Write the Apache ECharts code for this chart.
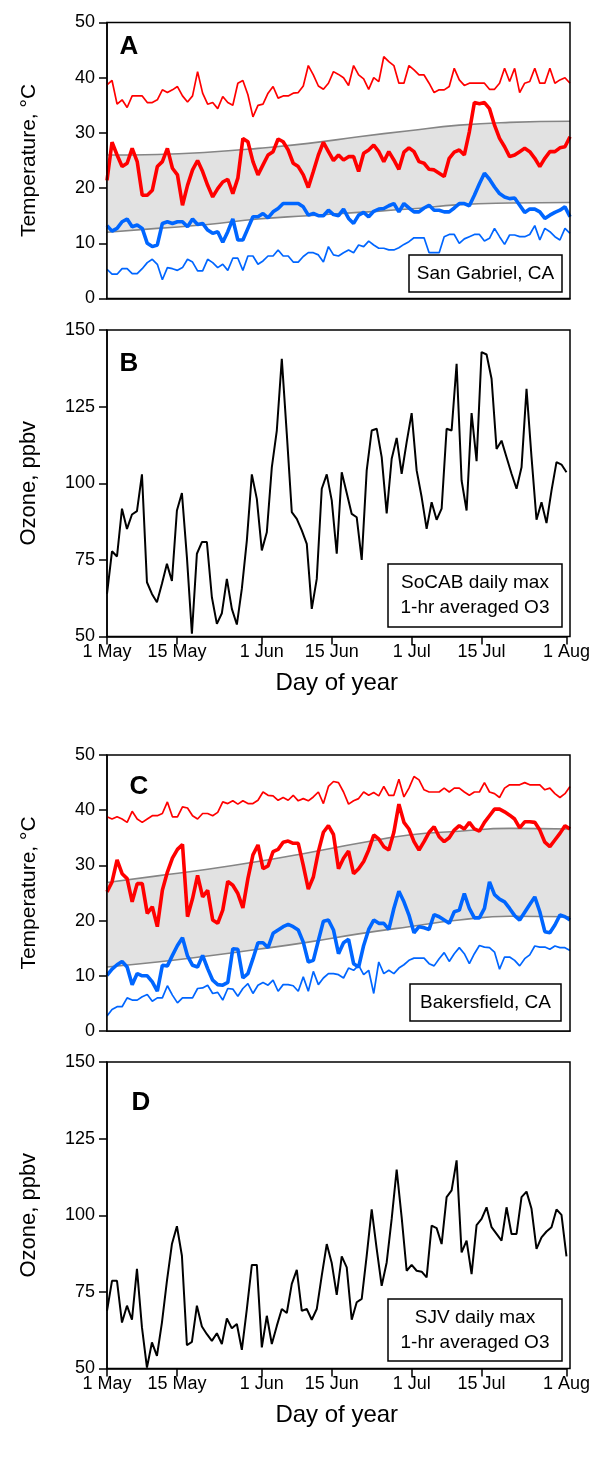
<!DOCTYPE html>
<html>
<head>
<meta charset="utf-8">
<script src="https://cdn.jsdelivr.net/npm/echarts@6/dist/echarts.min.js"></script>
<style>
html,body{margin:0;padding:0;background:#fff;}
#chart{width:593px;height:1457px;}
</style>
</head>
<body>
<div id="chart"></div>
<script>
// ---- Data (day index 0 = 1 May) ----
const tickDays = [0, 14, 31, 45, 61, 75, 92];
const tickLabels = ['1 May', '15 May', '1 Jun', '15 Jun', '1 Jul', '15 Jul', '1 Aug'];

// San Gabriel, CA
const sgMax = [38.7,39.5,35.2,36.0,34.6,36.7,36.7,36.7,35.5,35.5,
36.0,37.8,37.3,37.8,38.4,36.7,35.6,36.7,41.1,37.2,
35.2,35.5,34.4,36.6,35.5,35.0,39.0,39.5,36.9,32.9,
35.0,35.2,37.2,38.4,36.3,36.7,36.7,37.2,37.3,38.5,
42.2,40.5,38.5,37.9,39.0,41.1,40.6,40.0,38.6,42.2,
40.5,39.8,37.9,40.0,39.3,43.8,42.9,42.2,39.0,39.0,
42.2,41.4,40.5,40.5,39.0,37.3,37.8,37.8,38.4,41.7,
39.6,38.6,39.0,39.0,39.0,39.0,37.9,37.9,39.0,41.7,
39.3,41.7,37.3,39.0,39.3,41.7,39.0,39.0,41.7,39.0,
39.6,40.0,39.0];
const sgTmax = [21.4,28.3,26.0,23.9,24.5,27.2,24.8,18.7,18.7,19.6,
23.9,24.8,27.2,23.6,22.4,16.9,20.5,23.3,25.0,23.0,
20.5,18.4,19.9,21.1,21.6,19.0,21.8,29.0,28.4,24.8,
22.4,24.2,26.0,26.6,28.9,28.4,26.9,24.5,23.9,22.4,
20.1,23.0,26.0,28.3,26.6,25.0,26.0,25.1,25.7,25.7,
23.0,26.3,26.9,27.8,26.6,24.8,26.6,25.1,23.4,26.5,
27.3,26.6,24.8,24.5,23.4,23.3,22.7,22.1,25.4,26.5,
26.9,26.0,30.2,35.5,35.3,35.5,34.4,31.4,29.0,27.5,
25.7,26.0,26.6,27.2,26.6,25.4,23.9,25.4,26.6,26.6,
27.3,27.5,29.3];
const sgTmin = [13.2,12.2,12.7,13.9,14.4,13.0,13.3,12.7,10.0,9.4,
9.7,13.6,13.9,13.6,13.9,13.9,13.0,14.4,13.4,13.6,
12.4,11.8,12.1,10.2,12.1,14.4,10.6,10.6,12.7,14.8,
14.8,15.4,14.6,15.7,16.3,17.2,17.2,17.2,17.2,16.6,
15.1,15.4,15.0,15.0,16.0,15.2,15.0,16.2,14.5,13.6,
15.1,15.6,14.8,15.8,16.2,16.3,16.8,17.2,15.7,17.2,
16.4,15.7,15.7,16.4,16.9,16.0,16.0,15.7,15.7,16.4,
17.2,17.2,16.8,18.7,20.8,22.7,21.6,20.2,19.0,18.4,
18.1,18.2,16.9,15.6,16.2,16.2,15.7,14.5,15.1,15.6,
16.0,16.6,14.8];
const sgMin = [5.3,4.4,4.4,5.4,5.4,4.5,4.5,5.4,6.5,7.1,
6.2,3.4,5.6,5.4,5.1,5.6,7.1,6.6,5.0,5.0,
7.1,6.5,5.6,6.2,5.1,7.3,7.3,5.1,7.7,7.7,
6.2,6.8,7.7,7.7,8.8,7.7,7.7,6.6,6.6,7.6,
8.3,8.3,7.9,6.6,9.4,7.9,7.7,8.3,8.8,8.3,
9.7,9.4,10.4,9.7,9.1,9.1,8.8,8.8,9.2,9.8,
10.3,11.0,11.0,11.0,8.3,8.3,8.3,11.2,11.6,11.6,
10.0,10.8,11.2,11.6,11.6,10.4,10.9,12.7,11.2,9.8,
11.5,11.5,11.2,11.2,11.6,13.2,10.6,12.7,12.1,11.2,
10.6,12.7,11.8];
const climDays = [0, 10, 20, 30, 40, 50, 60, 70, 80, 92];
const sgClimHi = [26.0, 26.1, 26.5, 27.2, 28.1, 29.3, 30.4, 31.4, 31.9, 32.1];
const sgClimLo = [12.0, 12.7, 13.4, 14.4, 15.0, 15.6, 16.2, 17.0, 17.3, 17.4];

// SoCAB ozone
const socabO3 = [63.9,77.8,76.1,91.7,85.1,89.8,90.9,102.9,67.7,63.9,
61.2,67.2,73.7,68.1,91.1,96.8,75.9,50.9,77.0,80.8,
80.8,62.8,54.1,57.6,68.8,59.0,53.9,65.6,81.3,102.9,
94.9,78.1,84.0,105.2,117.2,140.6,116.1,90.6,88.4,84.6,
80.2,59.0,68.8,98.2,102.9,94.4,77.0,103.6,96.8,90.0,
88.9,75.0,104.2,117.2,117.8,108.5,90.2,108.0,114.8,103.1,
113.4,122.9,104.2,95.5,85.1,93.8,88.1,91.7,117.8,117.2,
139.0,100.9,91.1,122.9,107.2,142.8,142.0,134.1,111.2,113.9,
108.5,103.1,98.2,105.2,130.8,108.5,88.1,93.8,87.0,97.6,
106.9,106.1,103.6];

// Bakersfield, CA
const bkMax = [38.8,38.4,38.8,38.4,37.8,39.8,38.4,37.8,38.4,39.0,
39.0,39.4,41.5,38.8,38.8,40.6,40.4,39.0,38.4,39.4,
39.4,39.0,39.6,41.5,41.2,41.7,41.1,41.7,41.2,41.2,
41.8,43.3,42.7,42.6,41.8,42.3,41.8,42.7,41.7,42.1,
41.7,42.4,43.3,41.2,44.3,45.2,45.0,43.3,41.1,41.7,
42.1,43.3,42.7,43.2,42.6,44.3,42.7,42.7,45.6,42.4,
44.0,46.1,45.5,43.7,43.3,43.3,43.3,44.0,43.3,44.0,
44.0,43.3,42.7,43.3,43.3,45.0,43.3,43.0,42.3,44.0,
44.6,44.6,44.6,45.0,44.6,44.6,44.6,43.7,44.0,43.0,
42.3,43.0,44.3];
const bkTmax = [25.2,27.0,31.0,28.5,27.6,23.4,26.7,26.7,21.3,22.5,
18.9,25.5,28.8,31.3,32.9,33.8,20.7,24.0,28.2,24.3,
25.5,20.1,19.5,21.9,27.1,26.4,24.9,22.3,27.6,31.9,
33.7,29.4,29.9,32.5,32.9,34.2,34.4,34.0,34.0,30.0,
25.7,27.9,32.5,36.0,37.2,35.6,29.4,31.3,32.6,28.5,
29.4,30.7,32.8,35.5,34.8,33.4,32.8,36.0,41.1,37.8,
36.6,34.3,32.8,34.3,36.0,37.0,35.2,34.3,35.0,36.4,
37.2,36.6,37.8,36.6,36.2,37.8,39.0,40.2,40.2,39.7,
39.1,38.4,36.8,37.9,37.9,37.8,36.4,34.2,33.4,34.6,
35.8,37.2,36.6];
const bkTmin = [10.1,11.2,12.0,12.6,11.6,8.4,10.4,10.0,10.0,8.9,
7.2,11.9,11.8,13.7,15.5,16.9,13.6,11.9,11.6,13.7,
11.3,9.2,8.4,8.3,8.8,14.9,14.8,9.6,10.4,13.1,
16.0,16.0,15.1,17.7,18.3,18.9,19.3,18.9,18.3,16.1,
12.5,12.8,16.4,19.9,20.1,18.3,14.0,16.0,16.6,12.2,
11.6,15.5,18.4,20.1,19.5,19.5,18.4,22.2,25.3,23.4,
21.0,17.8,18.9,18.7,18.4,21.1,20.7,20.1,19.5,21.6,
21.9,24.9,22.2,20.5,20.5,22.2,27.0,24.7,23.9,23.4,
22.2,20.9,20.1,21.5,22.9,24.3,21.6,18.0,17.8,19.2,
21.0,20.7,20.1];
const bkMin = [2.7,3.9,4.4,4.4,6.0,5.6,5.6,6.2,6.6,5.4,
6.0,6.0,8.2,6.5,5.1,6.0,6.0,6.0,7.7,7.8,
8.3,6.8,7.0,5.6,7.7,7.6,6.3,7.7,8.6,6.8,
8.3,8.8,8.3,9.2,7.2,8.4,8.4,8.2,7.2,9.8,
7.2,10.8,8.4,9.6,10.4,10.4,10.2,9.6,11.4,11.0,
11.9,10.2,11.0,6.8,12.5,10.4,11.0,10.4,11.4,12.0,
12.8,13.2,13.2,13.2,12.2,11.8,13.1,14.2,12.6,14.0,
15.1,14.0,12.2,14.0,15.5,15.2,15.1,14.3,11.2,13.4,
13.4,12.8,11.8,13.1,13.8,15.4,15.2,15.2,14.8,15.4,
15.1,15.1,14.6];
const bkClimHi = [26.9, 28.1, 29.3, 30.7, 32.3, 34.0, 35.5, 36.2, 36.7, 36.6];
const bkClimLo = [11.6, 12.5, 13.6, 14.8, 16.1, 17.6, 18.9, 20.1, 20.8, 20.7];

// SJV ozone
const sjvO3 = [68.8,78.6,78.6,65.0,70.5,65.9,82.5,63.4,50.3,58.5,
54.1,65.0,78.6,90.6,96.4,86.8,57.6,58.7,70.5,63.7,
61.2,59.0,61.5,58.0,66.3,63.1,64.5,56.1,69.4,83.8,
83.8,56.9,67.2,58.0,63.9,69.4,68.1,77.6,82.2,68.8,
69.4,65.9,69.4,80.3,90.6,84.4,74.0,86.6,83.0,65.9,
71.6,72.7,86.8,101.9,89.0,77.0,84.6,98.8,114.9,99.3,
81.9,83.8,81.9,81.6,79.7,96.6,95.8,90.6,105.9,108.1,
117.9,87.9,91.7,80.8,96.8,98.8,102.6,96.1,93.9,91.7,
102.6,93.9,93.9,105.9,107.7,102.1,89.0,92.8,94.7,96.1,
101.9,100.1,86.6];

// ---- Build chart ----
const F = 'Liberation Sans, Arial, Helvetica, sans-serif';
const RED = '#ff0000', BLUE = '#0066ff', GRAY = '#858585', BAND = '#e2e2e2';
const daily = arr => arr.map((v, i) => [i, v]);
const clim = arr => climDays.map((d, i) => [d, arr[i]]);

const G = [
  {left: 107, top: 22.5, width: 463, height: 276},
  {left: 107, top: 330, width: 463, height: 306.5},
  {left: 107, top: 755, width: 463, height: 276},
  {left: 107, top: 1062, width: 463, height: 306.5}
];
const grids = G.map(g => ({left: g.left, top: g.top, width: g.width, height: g.height}));

const blk = {color: '#000', width: 1.5};
function xAx(i, labelled) {
  const a = {
    type: 'value', gridIndex: i, min: 0, max: 92,
    axisLine: {show: true, lineStyle: blk},
    splitLine: {show: false},
    axisTick: {show: false},
    axisLabel: {show: false}
  };
  if (labelled) {
    a.axisTick = {show: true, inside: false, length: 8, customValues: tickDays, lineStyle: blk};
    a.axisLabel = {show: true, customValues: tickDays, margin: 7, fontSize: 18, color: '#000', fontFamily: F,
      formatter: v => { const k = tickDays.indexOf(v); return k >= 0 ? tickLabels[k] : ''; }};
    a.name = 'Day of year';
    a.nameLocation = 'middle';
    a.nameGap = 35;
    a.nameTextStyle = {fontSize: 24, color: '#000', fontFamily: F};
  }
  return a;
}
function yAx(i, min, max, interval, name, nameSize) {
  return {
    type: 'value', gridIndex: i, min, max, interval, name,
    nameLocation: 'middle', nameGap: 67,
    nameTextStyle: {fontSize: nameSize, color: '#000', fontFamily: F},
    axisLine: {show: true, lineStyle: blk},
    axisTick: {show: true, inside: false, length: 8, lineStyle: blk},
    axisLabel: {fontSize: 18, color: '#000', margin: 12, fontFamily: F},
    splitLine: {show: false}
  };
}
function line(data, gi, color, width, z, smooth) {
  return {type: 'line', xAxisIndex: gi, yAxisIndex: gi, data, symbol: 'none', smooth: !!smooth,
    lineStyle: {color, width}, itemStyle: {color}, z, silent: true};
}
function fill(data, gi, color, z) {
  return {type: 'line', xAxisIndex: gi, yAxisIndex: gi, data, symbol: 'none', smooth: true,
    lineStyle: {width: 0, opacity: 0}, areaStyle: {color, opacity: 1, origin: 'start'}, z, silent: true};
}
function tempSeries(gi, mx, tmx, tmn, mn, hi, lo) {
  return [
    fill(clim(hi), gi, BAND, 1),
    fill(clim(lo), gi, '#ffffff', 1),
    line(clim(hi), gi, GRAY, 1.6, 2, true),
    line(clim(lo), gi, GRAY, 1.6, 2, true),
    line(daily(mx), gi, RED, 1.7, 3),
    line(daily(mn), gi, BLUE, 1.7, 3),
    line(daily(tmx), gi, RED, 3.6, 4),
    line(daily(tmn), gi, BLUE, 3.6, 4)
  ];
}

function letter(t, x, y) {
  return {type: 'text', x, y, z: 100,
    style: {text: t, font: 'bold 26px ' + F, fill: '#000', align: 'center', verticalAlign: 'middle'}};
}
function box(lines, x1, y1, x2, y2) {
  return [
    {type: 'rect', z: 100, shape: {x: x1, y: y1, width: x2 - x1, height: y2 - y1},
      style: {fill: '#fff', stroke: '#000', lineWidth: 1.5}},
    {type: 'text', z: 101, x: (x1 + x2) / 2, y: (y1 + y2) / 2,
      style: {text: lines.join('\n'), font: '19px ' + F, lineHeight: 25, fill: '#000', align: 'center', verticalAlign: 'middle'}}
  ];
}
const frames = G.map(g => ({type: 'rect', z: 90, silent: true,
  shape: {x: g.left, y: g.top, width: g.width, height: g.height},
  style: {fill: 'none', stroke: '#000', lineWidth: 1.5}}));

const option = {
  animation: false,
  backgroundColor: '#fff',
  grid: grids,
  xAxis: [xAx(0, false), xAx(1, true), xAx(2, false), xAx(3, true)],
  yAxis: [yAx(0, 0, 50, 10, 'Temperature, °C', 21), yAx(1, 50, 150, 25, 'Ozone, ppbv', 22),
          yAx(2, 0, 50, 10, 'Temperature, °C', 21), yAx(3, 50, 150, 25, 'Ozone, ppbv', 22)],
  series: [
    ...tempSeries(0, sgMax, sgTmax, sgTmin, sgMin, sgClimHi, sgClimLo),
    line(daily(socabO3), 1, '#000', 2, 3),
    ...tempSeries(2, bkMax, bkTmax, bkTmin, bkMin, bkClimHi, bkClimLo),
    line(daily(sjvO3), 3, '#000', 2, 3)
  ],
  graphic: [
    ...frames,
    letter('A', 129, 47), letter('B', 129, 364), letter('C', 139, 787), letter('D', 141, 1103),
    ...box(['San Gabriel, CA'], 409, 255, 562, 292),
    ...box(['SoCAB daily max', '1-hr averaged O3'], 388, 564, 562, 627),
    ...box(['Bakersfield, CA'], 410, 984, 561, 1021),
    ...box(['SJV daily max', '1-hr averaged O3'], 388, 1299, 562, 1361)
  ]
};
const chart = echarts.init(document.getElementById('chart'), null, {renderer: 'canvas'});
chart.setOption(option);
</script>
</body>
</html>
